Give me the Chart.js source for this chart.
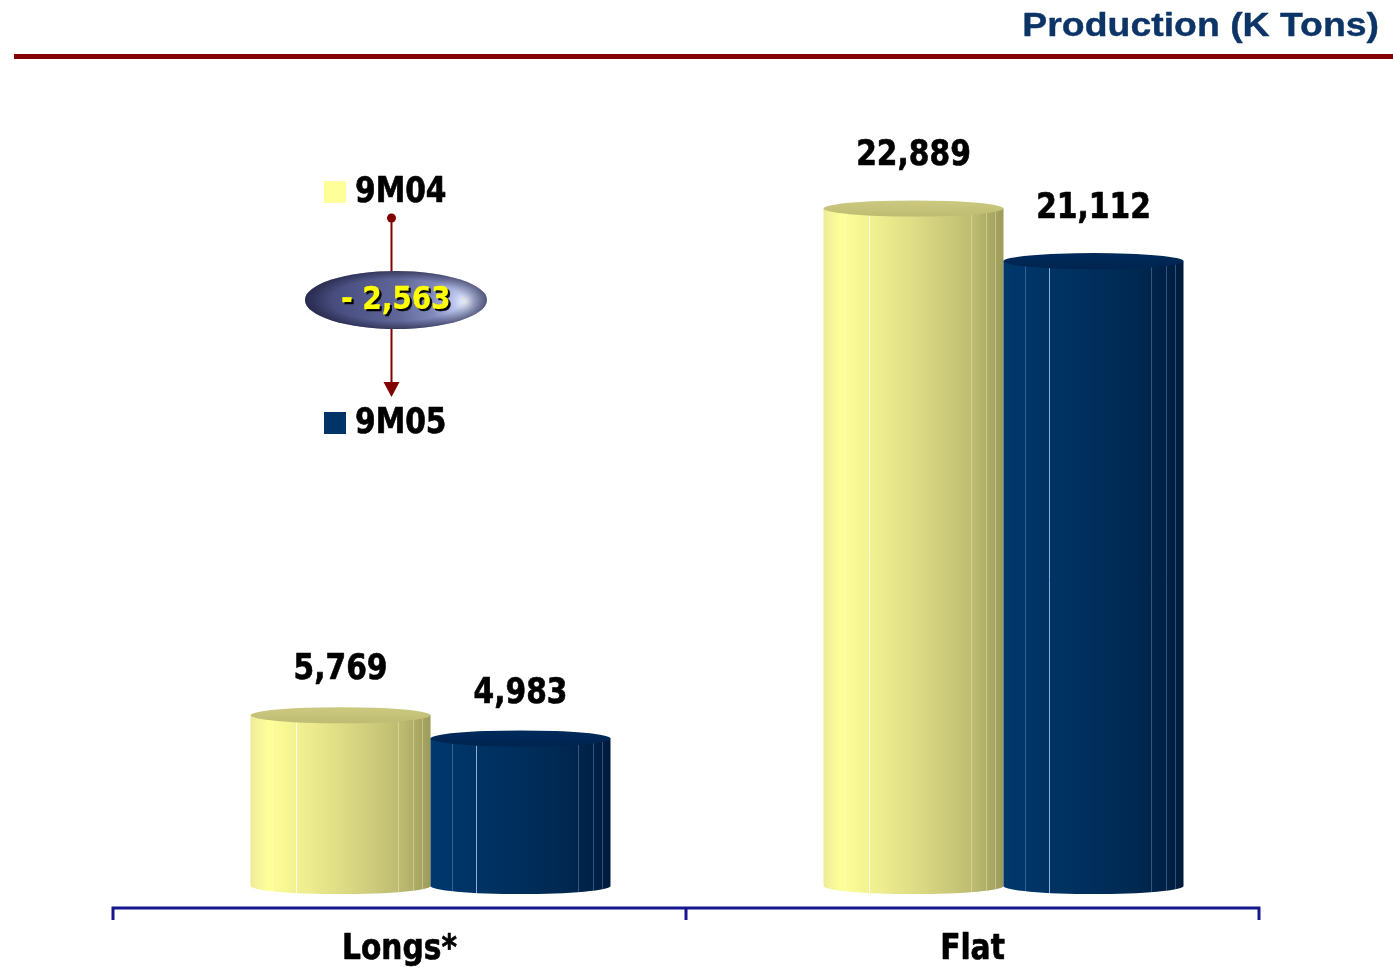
<!DOCTYPE html>
<html>
<head>
<meta charset="utf-8">
<title>Production (K Tons)</title>
<script src="https://cdn.jsdelivr.net/npm/chart.js@4/dist/chart.umd.min.js"></script>
<style>
  html, body { margin: 0; padding: 0; background: #ffffff; }
  #wrap { width: 1393px; height: 968px; position: relative; }
</style>
</head>
<body>
<div id="wrap"><canvas id="chart" width="1393" height="968"></canvas></div>
<script>
// ---- data ----
const categories = ['Longs*', 'Flat'];
const seriesNames = ['9M04', '9M05'];
const values9M04 = [5769, 22889];
const values9M05 = [4983, 21112];
const titleText = 'Production (K Tons)';

// ---- styles ----
const LABEL_FONT = "bold 33px 'DejaVu Sans Condensed', 'DejaVu Sans', sans-serif";
const BADGE_FONT = "bold 31px 'DejaVu Sans Condensed', 'DejaVu Sans', sans-serif";
const TITLE_FONT = "bold 34px 'Liberation Sans', Arial, sans-serif";
const DEPTH = 31;        // floor depth: axis sits in front of the cylinders
const RY = 8;            // half-height of the cylinder end ellipses

const palettes = [
  { // pale yellow
    swatch: '#ffff99',
    top: ['#cbca80', '#bdbc72'],
    body: [[0, '#ecec98'], [0.06, '#f8f89c'], [0.1, '#ffff99'], [0.25, '#f3f291'],
           [0.45, '#e3e188'], [0.65, '#d0ce7d'], [0.85, '#bab96f'], [1, '#9c9b5b']],
    line: 'rgba(255,255,255,0.85)', faint: 'rgba(255,255,220,0.35)'
  },
  { // navy
    swatch: '#003366',
    top: ['#002a5c', '#00244f'],
    body: [[0, '#00386d'], [0.25, '#003364'], [0.5, '#002e5c'], [0.75, '#002850'],
           [0.9, '#002146'], [1, '#001b3c']],
    line: 'rgba(190,215,255,0.75)', faint: 'rgba(150,180,230,0.35)'
  }
];

const fmt = v => v.toLocaleString('en-US');
const totalChange = values9M05.reduce((a, b) => a + b, 0) - values9M04.reduce((a, b) => a + b, 0);
const changeText = (totalChange < 0 ? '- ' : '+ ') + fmt(Math.abs(totalChange));

// bold text with a slight stretch (sx, sy) around its anchor
function stretchedText(ctx, text, x, y, sx, sy, stroke) {
  ctx.save();
  ctx.translate(x, y);
  ctx.scale(sx, sy);
  if (stroke) {
    ctx.lineWidth = stroke;
    ctx.strokeStyle = ctx.fillStyle;
    ctx.lineJoin = 'round';
    ctx.strokeText(text, 0, 0);
  }
  ctx.fillText(text, 0, 0);
  ctx.restore();
}

function drawCylinder(ctx, cx, w, top, base, pal) {
  const l = cx - w / 2, r = cx + w / 2;
  const g = ctx.createLinearGradient(l, 0, r, 0);
  pal.body.forEach(([s, c]) => g.addColorStop(s, c));
  ctx.fillStyle = g;
  ctx.beginPath();
  ctx.moveTo(l, top);
  ctx.lineTo(l, base);
  ctx.ellipse(cx, base, w / 2, RY, 0, Math.PI, 0, true);
  ctx.lineTo(r, top);
  ctx.closePath();
  ctx.fill();

  // facet edges
  ctx.save();
  ctx.lineWidth = 1;
  const facets = [[0.255, pal.line], [0.12, pal.faint], [0.82, pal.faint], [0.9, pal.faint], [0.95, pal.faint]];
  facets.forEach(([f, c]) => {
    const x = Math.round(l + w * f) + 0.5;
    const dy = RY * Math.sqrt(1 - Math.pow((x - cx) / (w / 2), 2));
    ctx.strokeStyle = c;
    ctx.beginPath();
    ctx.moveTo(x, top + dy);
    ctx.lineTo(x, base + dy);
    ctx.stroke();
  });
  ctx.restore();

  // top cap
  const tg = ctx.createLinearGradient(0, top - RY, 0, top + RY);
  tg.addColorStop(0, pal.top[0]);
  tg.addColorStop(1, pal.top[1]);
  ctx.fillStyle = tg;
  ctx.beginPath();
  ctx.ellipse(cx, top, w / 2, RY, 0, 0, Math.PI * 2);
  ctx.fill();
}

const decorPlugin = {
  id: 'decor',
  beforeDraw(chart) {
    const ctx = chart.ctx;
    ctx.save();
    ctx.fillStyle = '#ffffff';
    ctx.fillRect(0, 0, chart.width, chart.height);
    // title and rule
    ctx.font = TITLE_FONT;
    ctx.fillStyle = '#0c3466';
    ctx.textAlign = 'right';
    ctx.textBaseline = 'alphabetic';
    stretchedText(ctx, titleText, 1379, 36, 1.1, 1, 0.4);
    ctx.fillStyle = '#860000';
    ctx.fillRect(14, 54, chart.width - 14, 5);
    ctx.restore();
  },
  afterDatasetsDraw(chart) {
    const ctx = chart.ctx;
    const xs = chart.scales.x;
    const area = chart.chartArea;
    ctx.save();

    // cylinders
    chart.data.datasets.forEach((ds, di) => {
      const meta = chart.getDatasetMeta(di);
      meta.data.forEach(bar => {
        const p = bar.getProps(['x', 'y', 'base', 'width'], true);
        drawCylinder(ctx, p.x, p.width, p.y, p.base, palettes[di]);
      });
    });

    // value labels (lifted a little more over taller cylinders, as in perspective)
    ctx.font = LABEL_FONT;
    ctx.fillStyle = '#000000';
    ctx.textAlign = 'center';
    ctx.textBaseline = 'middle';
    chart.data.datasets.forEach((ds, di) => {
      const meta = chart.getDatasetMeta(di);
      meta.data.forEach((bar, i) => {
        const p = bar.getProps(['x', 'y', 'base'], true);
        const lift = 43 + (p.base - p.y) * 0.015;
        stretchedText(ctx, fmt(ds.data[i]), p.x, p.y - lift, 1, 1.08, 0.6);
      });
    });

    // category axis in front of the bars
    const step = area.width / categories.length;
    const axisY = area.bottom + 22;
    ctx.strokeStyle = '#16168f';
    ctx.lineWidth = 3;
    ctx.beginPath();
    ctx.moveTo(area.left - DEPTH, axisY);
    ctx.lineTo(area.right - DEPTH, axisY);
    for (let i = 0; i <= categories.length; i++) {
      const x = area.left - DEPTH + i * step;
      ctx.moveTo(x, axisY - 1.5);
      ctx.lineTo(x, axisY + 12);
    }
    ctx.stroke();
    categories.forEach((c, i) => {
      stretchedText(ctx, c, xs.getPixelForValue(i) - DEPTH, axisY + 42, 1, 1.08, 0.6);
    });

    // legend with change indicator
    const lx = 324, ly = [192, 423];
    ctx.textAlign = 'left';
    chart.data.datasets.forEach((ds, di) => {
      ctx.fillStyle = palettes[di].swatch;
      ctx.fillRect(lx, ly[di] - 11, 22, 22);
      ctx.fillStyle = '#000000';
      stretchedText(ctx, ds.label, lx + 31, ly[di] + 1, 1, 1.08, 0.6);
    });

    const ax = 391.5;
    ctx.strokeStyle = '#800000';
    ctx.fillStyle = '#800000';
    ctx.lineWidth = 2;
    ctx.beginPath();
    ctx.moveTo(ax, 218);
    ctx.lineTo(ax, 384);
    ctx.stroke();
    ctx.beginPath();
    ctx.arc(ax, 218, 4.5, 0, Math.PI * 2);
    ctx.fill();
    ctx.beginPath();
    ctx.moveTo(ax - 8, 382);
    ctx.lineTo(ax + 8, 382);
    ctx.lineTo(ax, 397);
    ctx.closePath();
    ctx.fill();

    // badge
    const bx = 396, by = 300, brx = 91, bry = 29;
    const rg = ctx.createRadialGradient(466, 302, 0, 440, 300, 150);
    rg.addColorStop(0, '#f4f8ff');
    rg.addColorStop(0.07, '#bcc6ee');
    rg.addColorStop(0.2, '#8189bb');
    rg.addColorStop(0.4, '#5f6597');
    rg.addColorStop(0.7, '#4b5082');
    rg.addColorStop(1, '#363a66');
    ctx.fillStyle = rg;
    ctx.beginPath();
    ctx.ellipse(bx, by, brx, bry, 0, 0, Math.PI * 2);
    ctx.fill();
    ctx.save();
    ctx.translate(bx, by);
    ctx.scale(1, bry / brx);
    const rim = ctx.createRadialGradient(0, 0, brx * 0.72, 0, 0, brx);
    rim.addColorStop(0, 'rgba(20,20,45,0)');
    rim.addColorStop(1, 'rgba(20,20,45,0.5)');
    ctx.fillStyle = rim;
    ctx.beginPath();
    ctx.arc(0, 0, brx, 0, Math.PI * 2);
    ctx.fill();
    ctx.restore();

    ctx.font = BADGE_FONT;
    ctx.textAlign = 'center';
    ctx.shadowColor = 'rgba(0,0,0,0.95)';
    ctx.shadowOffsetX = 2;
    ctx.shadowOffsetY = 2;
    ctx.fillStyle = '#ffff00';
    stretchedText(ctx, changeText, bx, by + 1, 1, 1.05, 0.5);
    ctx.restore();
  }
};

new Chart(document.getElementById('chart'), {
  type: 'bar',
  data: {
    labels: categories,
    datasets: [
      { label: seriesNames[0], data: values9M04, backgroundColor: 'rgba(0,0,0,0)', borderWidth: 0 },
      { label: seriesNames[1], data: values9M05, backgroundColor: 'rgba(0,0,0,0)', borderWidth: 0 }
    ]
  },
  options: {
    responsive: false,
    animation: false,
    devicePixelRatio: 1,
    layout: { padding: { left: 144, right: 103, top: 146, bottom: 82 } },
    datasets: { bar: { categoryPercentage: 360 / 573, barPercentage: 1 } },
    plugins: { legend: { display: false }, tooltip: { enabled: false }, title: { display: false } },
    scales: {
      x: { display: false, offset: true },
      y: { display: false, min: 0, max: 25000 }
    }
  },
  plugins: [decorPlugin]
});
</script>
</body>
</html>
